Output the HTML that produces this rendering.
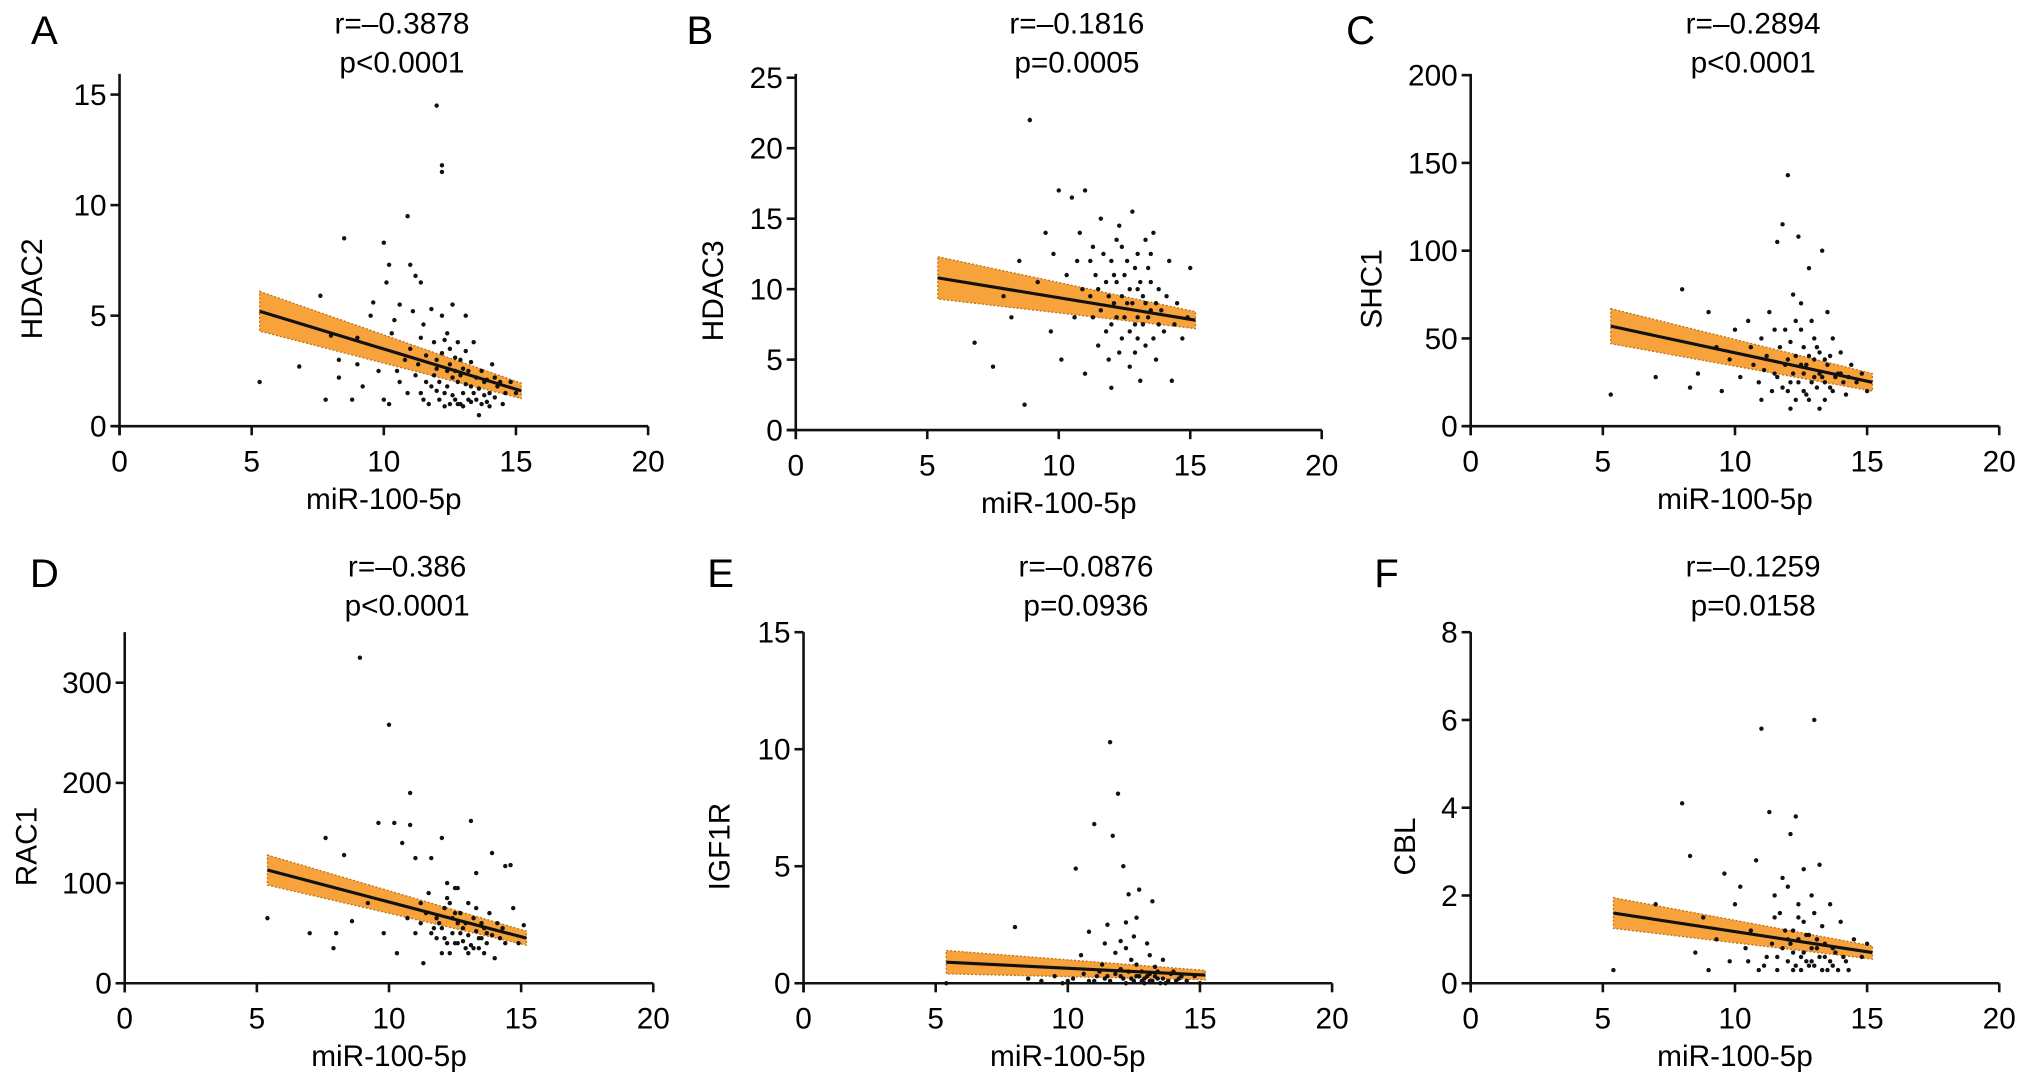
<!DOCTYPE html>
<html><head><meta charset="utf-8">
<style>
html,body{margin:0;padding:0;background:#fff;}
svg{display:block;font-family:"Liberation Sans",Arial,sans-serif;}
</style></head>
<body>
<svg id="fig" width="2032" height="1083" viewBox="0 0 1568 836" xmlns="http://www.w3.org/2000/svg"></svg>
<script>
// ---- data arrays ----
const xTicks = [0,5,10,15,20];
const panelLetters = ["A","B","C","D","E","F"];
const geneNames = ["HDAC2","HDAC3","SHC1","RAC1","IGF1R","CBL"];
const rLabels = ["r=\u20130.3878","r=\u20130.1816","r=\u20130.2894","r=\u20130.386","r=\u20130.0876","r=\u20130.1259"];
const pLabels = ["p<0.0001","p=0.0005","p<0.0001","p<0.0001","p=0.0936","p=0.0158"];
const yTicksA = [0,5,10,15];
const yTicksB = [0,5,10,15,20,25];
const yTicksC = [0,50,100,150,200];
const yTicksD = [0,100,200,300];
const yTicksE = [0,5,10,15];
const yTicksF = [0,2,4,6,8];
// fit lines: [x1, y1, x2, y2]
const fitA = [5.3,5.2,15.2,1.6];
const fitB = [5.4,10.8,15.2,7.8];
const fitC = [5.3,57,15.2,25];
const fitD = [5.4,113,15.2,45];
const fitE = [5.4,0.9,15.2,0.35];
const fitF = [5.4,1.6,15.2,0.7];
// CI half-widths [left, right]
const ciA = [0.9,0.35];
const ciB = [1.5,0.6];
const ciC = [10,5];
const ciD = [15,7];
const ciE = [0.5,0.2];
const ciF = [0.35,0.15];
const ptsA = [[5.3,2.0],[6.8,2.7],[7.6,5.9],[7.8,1.2],[8.0,4.1],[8.5,8.5],[8.8,1.2],[8.3,3.0],[8.3,2.2],[9.0,4.0],[9.0,2.8],[9.2,1.8],[9.5,5.0],[9.6,5.6],[9.8,2.5],[10.0,8.3],[10.1,6.5],[10.2,7.3],[10.3,4.2],[10.0,1.2],[10.2,1.0],[10.5,2.5],[10.6,5.5],[10.9,9.5],[11.0,7.3],[11.0,3.5],[11.2,6.8],[11.4,6.5],[11.4,1.5],[11.5,4.6],[11.6,2.0],[11.8,5.3],[12.0,14.5],[12.2,11.8],[12.2,11.5],[12.0,3.0],[12.2,5.0],[12.3,1.5],[12.4,2.5],[12.5,3.5],[12.6,5.5],[12.7,1.2],[12.8,2.0],[12.9,3.0],[13.0,1.5],[13.1,5.0],[13.2,2.5],[13.4,3.8],[13.5,1.2],[13.6,0.5],[13.8,2.0],[14.0,1.5],[14.1,2.8],[14.3,1.8],[14.5,1.0],[14.8,2.0],[15.0,1.5],[11.8,1.8],[12.1,1.2],[12.6,2.2],[13.3,1.8],[11.3,2.8],[10.8,3.0],[12.9,1.0],[13.7,2.5],[11.9,3.8],[12.4,4.2],[10.4,4.8],[11.1,5.2],[14.2,2.2],[12.0,1.6],[12.5,1.0],[13.0,2.6],[11.6,3.2],[12.8,3.8],[13.9,1.1],
 [11.7,1.0],[11.9,2.3],[12.1,2.0],[12.2,3.3],[12.3,0.9],[12.4,1.8],[12.5,2.8],[12.6,1.4],[12.7,3.1],[12.8,1.0],[12.9,2.3],[13.0,0.9],[13.1,1.9],[13.2,1.2],[13.3,2.9],[13.4,1.5],[13.5,2.2],[13.6,1.7],[13.7,1.0],[13.8,1.4],[13.9,2.1],[14.0,0.9],[14.2,1.3],[14.4,2.0],[11.5,1.2],[11.2,2.3],[10.9,1.5],[12.0,2.6],[13.1,3.4],[12.3,3.9],[14.6,1.5],[10.6,2.0],[11.4,4.0],[12.7,2.5],[13.3,1.1]];
const ptsB = [[6.8,6.2],[7.5,4.5],[7.9,9.5],[8.2,8.0],[8.5,12.0],[8.7,1.8],[8.9,22.0],[9.2,10.5],[9.5,14.0],[9.7,7.0],[9.8,12.5],[10.0,17.0],[10.1,5.0],[10.3,11.0],[10.5,16.5],[10.6,8.0],[10.8,14.0],[11.0,17.0],[11.0,4.0],[11.2,9.5],[11.3,13.0],[11.5,6.0],[11.6,15.0],[11.8,10.5],[12.0,3.0],[12.0,12.0],[12.2,8.0],[12.3,14.5],[12.4,6.5],[12.5,11.0],[12.6,9.0],[12.7,4.5],[12.8,15.5],[12.9,7.5],[13.0,12.5],[13.1,3.5],[13.2,9.5],[13.3,6.0],[13.4,11.5],[13.5,8.5],[13.6,14.0],[13.7,5.0],[13.8,10.0],[14.0,7.0],[14.2,12.0],[14.3,3.5],[14.5,9.0],[14.7,6.5],[14.9,8.0],[15.0,11.5],[11.4,11.0],[12.1,9.0],[12.7,10.0],[13.0,8.0],[11.8,7.0],[10.9,10.0],[12.4,13.0],[13.3,13.5],[11.6,8.5],[12.9,5.5],[13.8,7.5],[12.2,10.5],
 [11.7,12.5],[11.9,9.5],[12.0,7.5],[12.1,11.0],[12.3,5.5],[12.5,8.0],[12.6,12.0],[12.7,7.0],[12.8,9.0],[12.9,11.5],[13.0,6.5],[13.1,10.5],[13.2,7.5],[13.3,9.0],[13.4,8.0],[13.5,10.5],[13.6,6.5],[13.7,9.0],[13.9,8.5],[14.1,9.5],[11.3,8.0],[11.5,10.0],[11.2,12.0],[12.4,9.5],[13.0,10.0],[12.2,13.5],[13.5,12.5],[14.4,7.5],[10.7,12.0],[11.9,5.0]];
const ptsC = [[5.3,18],[7.0,28],[8.0,78],[8.3,22],[8.6,30],[9.0,65],[9.3,45],[9.5,20],[9.8,38],[10.0,55],[10.2,28],[10.5,60],[10.7,35],[11.0,50],[11.0,15],[11.3,65],[11.5,30],[11.6,105],[11.7,45],[11.8,115],[12.0,143],[12.1,25],[12.2,75],[12.3,40],[12.4,108],[12.5,55],[12.6,20],[12.7,35],[12.8,90],[12.9,60],[13.0,28],[13.1,45],[13.2,10],[13.3,100],[13.4,38],[13.5,65],[13.6,22],[13.7,50],[13.9,30],[14.0,42],[14.2,18],[14.4,35],[14.6,25],[14.8,30],[15.0,20],[11.9,35],[12.6,45],[13.2,30],[11.2,40],[10.6,45],[12.0,20],[12.8,15],[13.4,25],[11.5,55],[12.3,60],[14.0,30],
 [11.6,28],[11.8,22],[12.0,38],[12.1,48],[12.2,30],[12.4,25],[12.5,35],[12.6,30],[12.7,18],[12.8,40],[12.9,25],[13.0,38],[13.1,22],[13.2,42],[13.3,28],[13.5,35],[13.6,40],[13.7,20],[13.8,28],[14.1,25],[11.4,20],[11.1,32],[10.9,25],[12.3,15],[13.0,50],[12.5,70],[11.9,55],[14.3,28],[13.4,15],[12.1,10]];
const ptsD = [[5.4,65],[7.0,50],[7.6,145],[7.9,35],[8.0,50],[8.3,128],[8.6,62],[8.9,325],[9.2,80],[9.6,160],[9.8,50],[10.0,258],[10.2,160],[10.3,30],[10.5,140],[10.8,190],[10.8,158],[11.0,125],[11.2,60],[11.3,20],[11.5,90],[11.6,125],[11.8,45],[12.0,145],[12.1,75],[12.2,100],[12.3,30],[12.4,65],[12.5,95],[12.6,40],[12.8,55],[13.0,80],[13.1,162],[13.2,35],[13.3,110],[13.5,60],[13.6,30],[13.8,70],[13.9,130],[14.0,25],[14.2,45],[14.4,117],[14.6,118],[14.7,75],[14.9,40],[15.1,58],[11.9,60],[12.7,50],[13.4,45],[11.4,70],[12.2,40],[12.9,35],[13.7,50],[12.5,70],[11.7,55],[14.3,55],
 [11.6,50],[11.8,65],[12.0,55],[12.1,45],[12.3,80],[12.4,50],[12.5,40],[12.6,60],[12.7,70],[12.8,42],[12.9,60],[13.0,48],[13.1,38],[13.2,65],[13.3,52],[13.4,35],[13.5,45],[13.6,55],[13.7,40],[13.9,48],[14.1,60],[11.2,80],[11.0,50],[10.7,65],[12.2,85],[12.6,95],[13.3,75],[14.4,40],[12.0,30],[13.0,30]];
const ptsE = [[5.4,0],[8.0,2.4],[8.5,0.2],[9.0,0.1],[9.5,0.3],[10.0,0.1],[10.3,4.9],[10.5,1.2],[10.8,2.2],[11.0,6.8],[11.2,0.5],[11.5,2.5],[11.6,10.3],[11.7,6.3],[11.9,8.1],[12.0,0.3],[12.1,5.0],[12.2,1.5],[12.3,3.8],[12.4,0.2],[12.5,2.0],[12.6,0.8],[12.7,4.0],[12.8,0.1],[13.0,1.7],[13.1,0.4],[13.2,3.5],[13.4,0.2],[13.6,1.0],[13.8,0.1],[14.0,0.5],[14.2,0.2],[14.5,0.1],[14.8,0.3],[15.0,0.0],[11.0,0.1],[11.5,0.3],[12.2,0.0],[12.9,0.2],[13.5,0.0],[10.6,0.4],[9.8,0.0],[12.4,1.0],[13.3,0.7],[11.8,1.3],[12.0,0.6],[12.7,0.3],[13.1,0.1],[11.3,0.8],[13.9,0.4],
 [11.6,0.1],[11.8,0.4],[12.1,0.2],[12.3,0.5],[12.5,0.1],[12.6,0.3],[12.8,0.5],[12.9,0.0],[13.0,0.3],[13.2,0.1],[13.3,0.3],[13.4,0.5],[13.6,0.2],[13.7,0.0],[14.1,0.1],[14.3,0.3],[11.4,0.2],[11.1,0.3],[10.8,0.1],[10.2,0.2],[12.0,1.8],[12.6,2.8],[11.4,1.7],[13.1,1.2],[12.2,2.6]];
const ptsF = [[5.4,0.3],[7.0,1.8],[8.0,4.1],[8.3,2.9],[8.5,0.7],[8.8,1.5],[9.0,0.3],[9.3,1.0],[9.6,2.5],[9.8,0.5],[10.0,1.8],[10.2,2.2],[10.4,0.8],[10.6,1.2],[10.8,2.8],[11.0,5.8],[11.1,0.4],[11.3,3.9],[11.5,1.5],[11.6,0.6],[11.8,2.4],[12.0,1.0],[12.1,3.4],[12.2,0.3],[12.3,3.8],[12.4,1.8],[12.5,0.6],[12.6,2.6],[12.7,1.1],[12.8,0.4],[12.9,2.0],[13.0,6.0],[13.1,0.8],[13.2,2.7],[13.3,1.3],[13.5,0.3],[13.6,1.8],[13.8,0.7],[14.0,1.4],[14.2,0.5],[14.5,1.0],[14.8,0.6],[15.0,0.9],[11.9,1.2],[12.6,1.4],[13.4,0.9],[12.2,0.7],[12.9,0.5],[11.4,0.9],[13.7,0.4],
 [11.6,0.3],[11.8,0.8],[12.0,0.5],[12.1,0.9],[12.2,1.2],[12.3,0.4],[12.4,1.0],[12.5,0.3],[12.6,0.7],[12.7,0.5],[12.8,1.1],[12.9,0.8],[13.0,0.4],[13.1,1.0],[13.2,0.6],[13.3,0.3],[13.4,0.6],[13.6,0.5],[13.7,0.8],[13.9,0.3],[14.1,0.6],[14.3,0.3],[11.2,0.6],[10.9,0.3],[10.5,0.5],[11.5,2.0],[12.0,2.2],[12.4,1.5],[13.0,1.6],[11.7,1.6]];

const allTicks = [yTicksA,yTicksB,yTicksC,yTicksD,yTicksE,yTicksF];
const allFits = [fitA,fitB,fitC,fitD,fitE,fitF];
const allCI = [ciA,ciB,ciC,ciD,ciE,ciF];
const allPts = [ptsA,ptsB,ptsC,ptsD,ptsE,ptsF];
// ---- layout (pixel geometry in viewBox units) ----
const layout = [
 {x0:92,x1:500,y0:329,yTopVal:15,yTopPx:73,axTop:57,lx:34,titleY:18,ylabX:24},
 {x0:614,x1:1020,y0:332,yTopVal:25,yTopPx:60,axTop:57,lx:540,titleY:18,ylabX:550},
 {x0:1135,x1:1543,y0:329,yTopVal:200,yTopPx:58,axTop:57,lx:1050,titleY:18,ylabX:1058},
 {x0:96,x1:504,y0:759,yTopVal:300,yTopPx:527,axTop:488,lx:34,titleY:437,ylabX:20},
 {x0:620,x1:1028,y0:759,yTopVal:15,yTopPx:488,axTop:488,lx:556,titleY:437,ylabX:555},
 {x0:1135,x1:1543,y0:759,yTopVal:8,yTopPx:488,axTop:488,lx:1070,titleY:437,ylabX:1084}
];
const NS="http://www.w3.org/2000/svg";
const svg=document.getElementById('fig');
function mk(tag,attrs,parent,text){const e=document.createElementNS(NS,tag);for(const k in attrs)e.setAttribute(k,attrs[k]);if(text!==undefined)e.textContent=text;parent.appendChild(e);return e;}
const FS=23;
for(let i=0;i<6;i++){
  const L=layout[i];
  const sx=v=>L.x0+(L.x1-L.x0)*v/20;
  const sy=v=>L.y0-(L.y0-L.yTopPx)*v/L.yTopVal;
  const g=mk('g',{},svg);
  
  
  const letter=mk('text',{x:L.lx,y:L.titleY+16,'font-size':31,'text-anchor':'middle'},g,panelLetters[i]);
  
  
  const cx=(L.x0+L.x1)/2;
  const rt=mk('text',{x:cx+14,y:L.titleY+8,'font-size':FS,'text-anchor':'middle'},g,rLabels[i]);
  
  
  const pt=mk('text',{x:cx+14,y:L.titleY+38,'font-size':FS,'text-anchor':'middle'},g,pLabels[i]);
  
  
  const f=allFits[i],c=allCI[i];
  const band=mk('polygon',{points:`${sx(f[0])},${sy(f[1]+c[0])} ${sx(f[2])},${sy(f[3]+c[1])} ${sx(f[2])},${sy(f[3]-c[1])} ${sx(f[0])},${sy(f[1]-c[0])}`,fill:'#f7a23a',stroke:'#b8741f','stroke-width':1,'stroke-dasharray':'1.5 1.5'},g);
  
  
  for(const p of allPts[i]){
    const d=mk('circle',{cx:sx(p[0]),cy:sy(p[1]),r:1.7,fill:'#111'},g);
    
    
  }
  const fl=mk('line',{x1:sx(f[0]),y1:sy(f[1]),x2:sx(f[2]),y2:sy(f[3]),stroke:'#111','stroke-width':2.4},g);
  
  
  const ya=mk('line',{x1:L.x0,y1:L.axTop,x2:L.x0,y2:L.y0+7,stroke:'#111','stroke-width':2},g);
  
  
  const xa=mk('line',{x1:L.x0-7,y1:L.y0,x2:L.x1,y2:L.y0,stroke:'#111','stroke-width':2},g);
  
  
  for(const t of xTicks){
    mk('line',{x1:sx(t),y1:L.y0,x2:sx(t),y2:L.y0+7,stroke:'#111','stroke-width':2},g);
    const tl=mk('text',{x:sx(t),y:L.y0+35,'font-size':FS,'text-anchor':'middle'},g,String(t));
    
    
  }
  for(const t of allTicks[i]){
    mk('line',{x1:L.x0-7,y1:sy(t),x2:L.x0,y2:sy(t),stroke:'#111','stroke-width':2},g);
    const tl=mk('text',{x:L.x0-10,y:sy(t)+8,'font-size':FS,'text-anchor':'end'},g,String(t));
    
    
  }
  const xt=mk('text',{x:cx,y:L.y0+64,'font-size':FS,'text-anchor':'middle'},g,'miR-100-5p');
  
  
  const ymid=(L.y0+L.axTop)/2+30;
  const yt=mk('text',{x:L.ylabX,y:ymid,'font-size':FS,'text-anchor':'middle',transform:`rotate(-90 ${L.ylabX} ${ymid})`,dy:8},g,geneNames[i]);
  
  
}
</script>
</body></html>
